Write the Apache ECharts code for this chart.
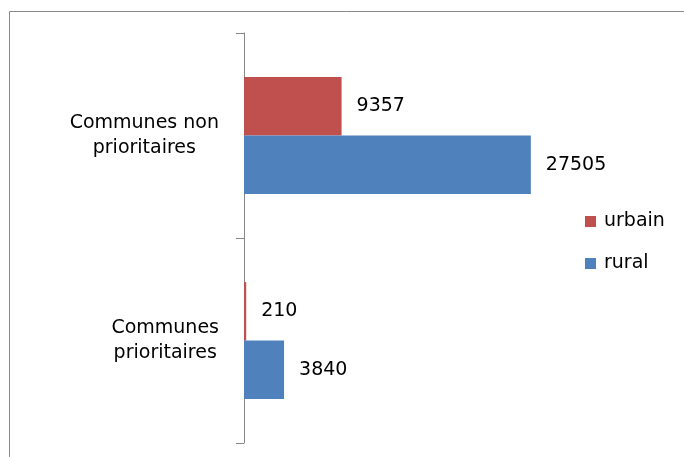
<!DOCTYPE html>
<html>
<head>
<meta charset="utf-8">
<script src="https://cdn.jsdelivr.net/npm/echarts@6/dist/echarts.min.js"></script>
<style>
  html, body { margin: 0; padding: 0; background: #fff; }
  #chart { width: 684px; height: 457px; }
</style>
</head>
<body>
<div id="chart"></div>
<script>
// data
const categories = ['Communes non\nprioritaires', 'Communes\nprioritaires'];
const seriesNames = ['urbain', 'rural'];
const urbain = [9357, 210];
const rural = [27505, 3840];

const font = 'DejaVu Sans';
const fs = 19;

let myChart = echarts.init(document.getElementById('chart'));

myChart.setOption({
  animation: false,
  backgroundColor: '#fff',
  // frame around the chart (top and left edges only are visible)
  graphic: [
    {
      type: 'polyline',
      shape: { points: [[9.5, 457], [9.5, 11.5], [684, 11.5]] },
      style: { stroke: '#8a8a8a', lineWidth: 1, fill: null },
      silent: true
    }
  ],
  legend: {
    orient: 'vertical',
    left: 585,
    top: 212,
    padding: 0,
    itemWidth: 11,
    itemHeight: 11,
    itemGap: 23,
    icon: 'rect',
    data: seriesNames,
    textStyle: {
      fontFamily: font,
      fontSize: fs,
      color: '#000',
      padding: [0, 0, 0, 3]
    }
  },
  grid: {
    left: 244,
    top: 33,
    bottom: 14,
    right: 75,
    containLabel: false
  },
  xAxis: {
    type: 'value',
    min: 0,
    max: 35000,
    show: false
  },
  yAxis: {
    type: 'category',
    inverse: true,
    data: categories,
    axisLine: {
      lineStyle: { color: '#868686', width: 1 }
    },
    axisTick: {
      show: true,
      inside: false,
      alignWithLabel: false,
      length: 8,
      lineStyle: { color: '#868686', width: 1 }
    },
    axisLabel: {
      margin: 25,
      color: '#000',
      fontFamily: font,
      fontSize: fs,
      lineHeight: 25,
      formatter: (v) => v.split('\n').map(s => '{c|' + s + '}').join('\n'),
      rich: {
        c: {
          align: 'center',
          fontFamily: font,
          fontSize: fs,
          lineHeight: 25,
          color: '#000'
        }
      }
    }
  },
  series: [
    {
      name: 'urbain',
      type: 'bar',
      data: urbain,
      color: '#C0504D',
      barGap: '0%',
      barCategoryGap: '43%',
      label: {
        show: true,
        position: 'right',
        distance: 15,
        color: '#000',
        fontFamily: font,
        fontSize: fs
      }
    },
    {
      name: 'rural',
      type: 'bar',
      data: rural,
      color: '#4F81BD',
      barGap: '0%',
      barCategoryGap: '43%',
      label: {
        show: true,
        position: 'right',
        distance: 15,
        color: '#000',
        fontFamily: font,
        fontSize: fs
      }
    }
  ]
});

window.addEventListener('resize', () => {
  myChart.resize();
});
</script>
</body>
</html>
